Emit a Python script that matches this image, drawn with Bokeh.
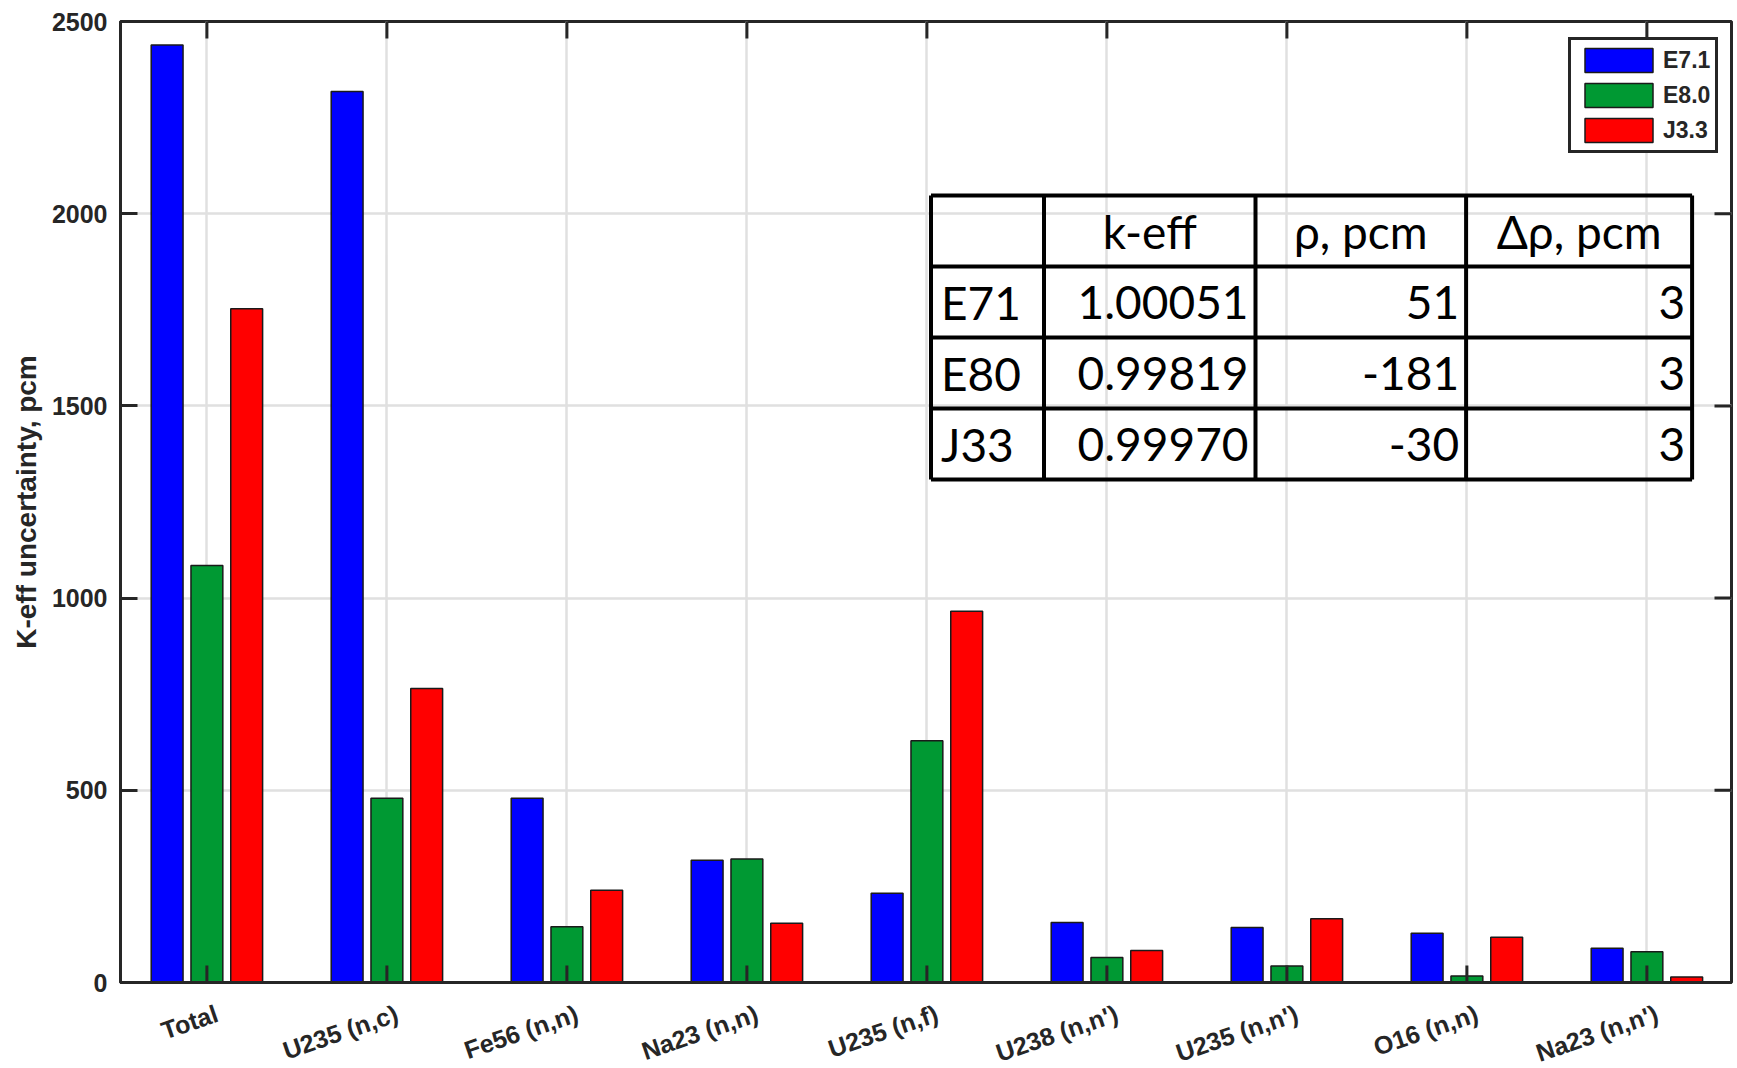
from bokeh.plotting import figure
from bokeh.models import (ColumnDataSource, FixedTicker, LinearAxis, Legend,
                          LegendItem, Range1d)
from bokeh.transform import dodge
from bokeh.core.properties import value
from bokeh.embed import file_html
from bokeh.resources import INLINE

# ---------------- data ----------------
categories = ["Total", "U235 (n,c)", "Fe56 (n,n)", "Na23 (n,n)", "U235 (n,f)",
              "U238 (n,n')", "U235 (n,n')", "O16 (n,n)", "Na23 (n,n')"]
e71 = [2439, 2318, 479, 318, 232, 156, 143, 128, 89]
e80 = [1085, 479, 145, 321, 629, 65, 43, 17, 80]
j33 = [1753, 765, 240, 154, 966, 83, 166, 118, 14]
series_names = ["E7.1", "E8.0", "J3.3"]
y_ticks = [0, 500, 1000, 1500, 2000, 2500]

table_header = ["", "k-eff", "ρ, pcm", "Δρ, pcm"]
table_rows = ["E71", "E80", "J33"]
table_keff = ["1.00051", "0.99819", "0.99970"]
table_rho = ["51", "-181", "-30"]
table_drho = ["3", "3", "3"]

# ---------------- style ----------------
AX = "#262626"
COLORS = ["#0000FF", "#009933", "#FF0000"]
SANS = "Liberation Sans"
TABLE_FONT = "Lato"

xs = list(range(1, len(categories) + 1))
src = ColumnDataSource(dict(x=xs, e71=e71, e80=e80, j33=j33))

X0, X1 = 0.52, 9.47
Y0, Y1 = 0, 2500
FW, FH = 1611, 961

p = figure(frame_width=FW, frame_height=FH, output_backend="svg",
           toolbar_location=None,
           x_range=Range1d(X0, X1), y_range=Range1d(Y0, Y1),
           min_border_left=120, min_border_right=6, min_border_top=21,
           min_border_bottom=80, x_axis_location=None, y_axis_location=None)
p.outline_line_color = AX
p.outline_line_width = 3
p.background_fill_color = "white"

xt = FixedTicker(ticks=xs)
yt = FixedTicker(ticks=y_ticks)
TICK_PX = 17

def style_axis(ax, ticker):
    ax.ticker = ticker
    ax.axis_line_color = AX
    ax.axis_line_width = 3
    ax.major_tick_line_color = AX
    ax.major_tick_line_width = 3
    ax.major_tick_in = TICK_PX
    ax.major_tick_out = 0
    ax.minor_tick_line_color = None
    ax.major_label_text_color = AX
    ax.major_label_text_font = SANS
    ax.major_label_text_font_style = "bold"
    ax.major_label_text_font_size = "25px"

# bottom axis: rotated labels anchored slightly right of each category
# (MATLAB-like); the tick marks themselves are drawn at the categories below
lab_shift = 10 / FW * (X1 - X0)
lab_pos = [x + lab_shift for x in xs]
bottom = LinearAxis()
style_axis(bottom, FixedTicker(ticks=lab_pos))
bottom.major_tick_line_color = None
bottom.major_label_overrides = {x: c for x, c in zip(lab_pos, categories)}
bottom.major_label_orientation = 0.33
bottom.major_label_standoff = 30
p.add_layout(bottom, "below")

left = LinearAxis()
style_axis(left, yt)
left.major_label_standoff = 13
left.axis_label = "K-eff uncertainty, pcm"
left.axis_label_text_font = SANS
left.axis_label_text_font_style = "bold"
left.axis_label_text_font_size = "28px"
left.axis_label_text_color = AX
left.axis_label_standoff = 7
p.add_layout(left, "left")

p.xgrid.ticker = xt
p.ygrid.ticker = yt
for g in (p.xgrid, p.ygrid):
    g.grid_line_color = "#e0e0e0"
    g.grid_line_width = 2.5

# ---------------- bars ----------------
offs = [-0.221, 0.0, 0.221]
renderers = []
for col, off, c in zip(["e71", "e80", "j33"], offs, COLORS):
    r = p.vbar(x=dodge("x", off, range=p.x_range), top=col, width=0.177,
               source=src, fill_color=c, line_color="#1a1a1a", line_width=1.5)
    renderers.append(r)

# inward tick marks on bottom, top and right edges of the box (MATLAB style)
tick_dx = TICK_PX / FW * (X1 - X0)
tick_dy = TICK_PX / FH * (Y1 - Y0)
n = len(xs)
p.segment(x0=xs, y0=[Y0] * n, x1=xs, y1=[Y0 + tick_dy] * n,
          line_color=AX, line_width=3)
p.segment(x0=xs, y0=[Y1] * n, x1=xs, y1=[Y1 - tick_dy] * n,
          line_color=AX, line_width=3)
p.segment(x0=[X1] * len(y_ticks), y0=y_ticks, x1=[X1 - tick_dx] * len(y_ticks),
          y1=y_ticks, line_color=AX, line_width=3)

legend = Legend(items=[LegendItem(label=s, renderers=[r])
                       for s, r in zip(series_names, renderers)],
                location=(1448, 829))
legend.glyph_width = 85
legend.glyph_height = 30
legend.label_height = 30
legend.label_width = 40
legend.label_standoff = 2
legend.spacing = 5
legend.padding = 5
legend.margin = 0
legend.label_text_font = SANS
legend.label_text_font_style = "bold"
legend.label_text_font_size = "23px"
legend.label_text_color = AX
legend.border_line_color = AX
legend.border_line_alpha = 1
legend.border_line_width = 3
legend.background_fill_color = "white"
legend.background_fill_alpha = 1
p.add_layout(legend)

# ---------------- inset table ----------------
# frame pixel geometry (reference page coords) -> data coords
FL, FT = 120.0, 22.0
def px2x(px):
    return X0 + (px - FL) / FW * (X1 - X0)
def px2y(py):
    return Y1 - (py - FT) / FH * (Y1 - Y0)

col_px = [930.5, 1043.5, 1255.0, 1465.6, 1691.6]
row_px = [196.0, 267.0, 338.0, 409.0, 480.0]
cx = [px2x(v) for v in col_px]
ry = [px2y(v) for v in row_px]

sx0, sy0, sx1, sy1 = [], [], [], []
for xv in cx:
    sx0.append(xv); sx1.append(xv); sy0.append(ry[0]); sy1.append(ry[-1])
for yv in ry:
    sx0.append(cx[0]); sx1.append(cx[-1]); sy0.append(yv); sy1.append(yv)
p.segment(x0=sx0, y0=sy0, x1=sx1, y1=sy1, line_color="black", line_width=4)

TFONT = value(TABLE_FONT)
TSIZE = value("46px")
pad = 7
rowc = [(ry[i] + ry[i + 1]) / 2 for i in range(4)]

hx = [(cx[i] + cx[i + 1]) / 2 for i in range(1, 4)]
p.text(x=hx, y=[rowc[0]] * 3, text=table_header[1:], text_align="center",
       text_baseline="middle", text_font=TFONT, text_font_size=TSIZE,
       text_color="black")
p.text(x=[px2x(col_px[0] + 10)] * 3, y=rowc[1:], text=table_rows,
       text_align="left", text_baseline="middle", text_font=TFONT,
       text_font_size=TSIZE, text_color="black")
for ci, col in zip([2, 3, 4], [table_keff, table_rho, table_drho]):
    p.text(x=[px2x(col_px[ci] - pad)] * 3, y=rowc[1:], text=col,
           text_align="right", text_baseline="middle", text_font=TFONT,
           text_font_size=TSIZE, text_color="black")

open("out.html", "w").write(file_html(p, INLINE))
